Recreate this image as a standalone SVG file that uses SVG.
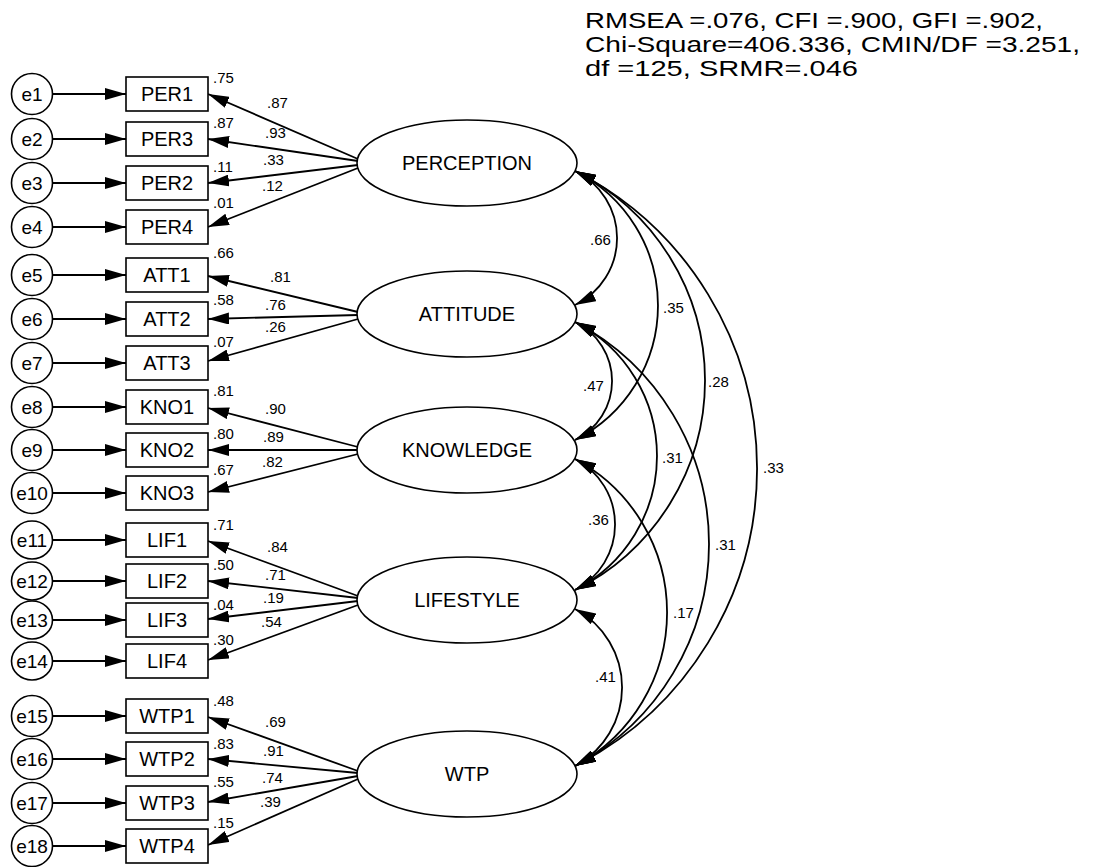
<svg xmlns="http://www.w3.org/2000/svg" width="1093" height="867" viewBox="0 0 1093 867">
  <style>
    text { font-family: "Liberation Sans", Arial, sans-serif; fill: #000; }
    .err { fill: #fff; stroke: #000; stroke-width: 1.6; }
    .obs { fill: #fff; stroke: #000; stroke-width: 1.6; }
    .lat { fill: #fff; stroke: #000; stroke-width: 1.6; }
    .t-err { font-size: 19px; text-anchor: middle; }
    .t-obs { font-size: 20px; text-anchor: middle; }
    .t-lat { font-size: 20px; text-anchor: middle; }
    .num { font-size: 15px; }
    .fit { font-size: 22px; }
    .path { fill: none; stroke: #000; stroke-width: 1.8; marker-end: url(#head); }
    .cov { fill: none; stroke: #000; stroke-width: 1.8; marker-start: url(#head); marker-end: url(#head); }
  </style>
  <defs>
    <marker id="head" markerUnits="userSpaceOnUse" markerWidth="21" markerHeight="12" refX="21" refY="6" orient="auto-start-reverse">
      <path d="M0,0 L21,6 L0,12 z" fill="#000"/>
    </marker>
  </defs>
  <rect width="1093" height="867" fill="#fff"/>

  <!-- fit statistics -->
  <g id="fit">
    <text class="fit" x="585" y="28" textLength="458" lengthAdjust="spacingAndGlyphs">RMSEA =.076, CFI  =.900, GFI =.902,</text>
    <text class="fit" x="585" y="52" textLength="495" lengthAdjust="spacingAndGlyphs">Chi-Square=406.336, CMIN/DF =3.251,</text>
    <text class="fit" x="585" y="76" textLength="273" lengthAdjust="spacingAndGlyphs">df =125, SRMR=.046</text>
  </g>

  <!-- connectors -->
  <g id="connectors">
    <!-- error terms to indicators -->
    <path class="path" d="M53,94 H126"/>
    <path class="path" d="M53,139 H126"/>
    <path class="path" d="M53,183 H126"/>
    <path class="path" d="M53,227 H126"/>
    <path class="path" d="M53,275 H126"/>
    <path class="path" d="M53,319 H126"/>
    <path class="path" d="M53,363 H126"/>
    <path class="path" d="M53,407 H126"/>
    <path class="path" d="M53,450 H126"/>
    <path class="path" d="M53,493 H126"/>
    <path class="path" d="M53,540 H126"/>
    <path class="path" d="M53,581 H126"/>
    <path class="path" d="M53,620 H126"/>
    <path class="path" d="M53,661 H126"/>
    <path class="path" d="M53,716 H126"/>
    <path class="path" d="M53,759 H126"/>
    <path class="path" d="M53,803 H126"/>
    <path class="path" d="M53,846 H126"/>

    <!-- loadings -->
    <path class="path" d="M358,159 L208,94"/>
    <path class="path" d="M358,161 L208,139"/>
    <path class="path" d="M358,165 L208,183"/>
    <path class="path" d="M358,168 L208,227"/>

    <path class="path" d="M358,312 L208,276"/>
    <path class="path" d="M358,315 L208,319"/>
    <path class="path" d="M358,319 L208,361"/>

    <path class="path" d="M358,447 L208,408"/>
    <path class="path" d="M358,450 L208,450"/>
    <path class="path" d="M358,454 L208,492"/>

    <path class="path" d="M358,596 L208,541"/>
    <path class="path" d="M358,598 L208,581"/>
    <path class="path" d="M358,601 L208,619"/>
    <path class="path" d="M358,605 L208,660"/>

    <path class="path" d="M358,771 L208,717"/>
    <path class="path" d="M358,773 L208,759"/>
    <path class="path" d="M358,776 L208,802"/>
    <path class="path" d="M358,779 L208,845"/>

    <!-- covariances -->
    <path class="cov" d="M575,171 A74.4,74.4 0 0 1 575,305"/>
    <path class="cov" d="M575,171 A150.5,150.5 0 0 1 575,440"/>
    <path class="cov" d="M575,171 A233.8,233.8 0 0 1 575,590"/>
    <path class="cov" d="M575,171 A334.1,334.1 0 0 1 575,766"/>
    <path class="cov" d="M575,322 A65.5,65.5 0 0 1 575,440"/>
    <path class="cov" d="M575,322 A150.5,150.5 0 0 1 575,590"/>
    <path class="cov" d="M575,322 A250.9,250.9 0 0 1 575,766"/>
    <path class="cov" d="M575,459 A73.6,73.6 0 0 1 575,590"/>
    <path class="cov" d="M575,459 A174,174 0 0 1 575,766"/>
    <path class="cov" d="M575,609 A89,89 0 0 1 575,766"/>
  </g>

  <!-- loading and covariance values -->
  <g id="estimates" class="num">
    <text class="num" x="267" y="108">.87</text>
    <text class="num" x="265" y="138">.93</text>
    <text class="num" x="263" y="165">.33</text>
    <text class="num" x="262" y="191">.12</text>
    <text class="num" x="270" y="282">.81</text>
    <text class="num" x="265" y="310">.76</text>
    <text class="num" x="265" y="332">.26</text>
    <text class="num" x="265" y="414">.90</text>
    <text class="num" x="263" y="442">.89</text>
    <text class="num" x="262" y="467">.82</text>
    <text class="num" x="267" y="552">.84</text>
    <text class="num" x="265" y="580">.71</text>
    <text class="num" x="263" y="603">.19</text>
    <text class="num" x="261" y="627">.54</text>
    <text class="num" x="265" y="727">.69</text>
    <text class="num" x="263" y="756">.91</text>
    <text class="num" x="262" y="783">.74</text>
    <text class="num" x="260" y="807">.39</text>

    <text class="num" x="590" y="245">.66</text>
    <text class="num" x="663" y="313">.35</text>
    <text class="num" x="708" y="387">.28</text>
    <text class="num" x="763" y="473">.33</text>
    <text class="num" x="583" y="391">.47</text>
    <text class="num" x="662" y="463">.31</text>
    <text class="num" x="715" y="550">.31</text>
    <text class="num" x="588" y="525">.36</text>
    <text class="num" x="673" y="618">.17</text>
    <text class="num" x="595" y="682">.41</text>
  </g>

  <!-- error terms -->
  <g id="e1"><circle class="err" cx="32" cy="94" r="20.5"/><text class="t-err" x="32" y="100.5">e1</text></g>
  <g id="e2"><circle class="err" cx="32" cy="139" r="20.5"/><text class="t-err" x="32" y="145.5">e2</text></g>
  <g id="e3"><circle class="err" cx="32" cy="183" r="20.5"/><text class="t-err" x="32" y="189.5">e3</text></g>
  <g id="e4"><circle class="err" cx="32" cy="227" r="20.5"/><text class="t-err" x="32" y="233.5">e4</text></g>
  <g id="e5"><circle class="err" cx="32" cy="275" r="20.5"/><text class="t-err" x="32" y="281.5">e5</text></g>
  <g id="e6"><circle class="err" cx="32" cy="319" r="20.5"/><text class="t-err" x="32" y="325.5">e6</text></g>
  <g id="e7"><circle class="err" cx="32" cy="363" r="20.5"/><text class="t-err" x="32" y="369.5">e7</text></g>
  <g id="e8"><circle class="err" cx="32" cy="407" r="20.5"/><text class="t-err" x="32" y="413.5">e8</text></g>
  <g id="e9"><circle class="err" cx="32" cy="450" r="20.5"/><text class="t-err" x="32" y="456.5">e9</text></g>
  <g id="e10"><circle class="err" cx="32" cy="493" r="20.5"/><text class="t-err" x="32" y="499.5">e10</text></g>
  <g id="e11"><ellipse class="err" cx="32" cy="540" rx="20.5" ry="19"/><text class="t-err" x="32" y="546.5">e11</text></g>
  <g id="e12"><ellipse class="err" cx="32" cy="581" rx="20.5" ry="19"/><text class="t-err" x="32" y="587.5">e12</text></g>
  <g id="e13"><ellipse class="err" cx="32" cy="620" rx="20.5" ry="19"/><text class="t-err" x="32" y="626.5">e13</text></g>
  <g id="e14"><ellipse class="err" cx="32" cy="661" rx="20.5" ry="19"/><text class="t-err" x="32" y="667.5">e14</text></g>
  <g id="e15"><circle class="err" cx="32" cy="716" r="20.5"/><text class="t-err" x="32" y="722.5">e15</text></g>
  <g id="e16"><circle class="err" cx="32" cy="759" r="20.5"/><text class="t-err" x="32" y="765.5">e16</text></g>
  <g id="e17"><circle class="err" cx="32" cy="803" r="20.5"/><text class="t-err" x="32" y="809.5">e17</text></g>
  <g id="e18"><circle class="err" cx="32" cy="846" r="20.5"/><text class="t-err" x="32" y="852.5">e18</text></g>

  <!-- observed indicators, with squared multiple correlations -->
  <g id="PER1"><rect class="obs" x="126" y="77" width="82" height="34"/><text class="t-obs" x="167" y="101">PER1</text><text class="num" x="213" y="83">.75</text></g>
  <g id="PER3"><rect class="obs" x="126" y="122" width="82" height="34"/><text class="t-obs" x="167" y="146">PER3</text><text class="num" x="213" y="128">.87</text></g>
  <g id="PER2"><rect class="obs" x="126" y="166" width="82" height="34"/><text class="t-obs" x="167" y="190">PER2</text><text class="num" x="213" y="172">.11</text></g>
  <g id="PER4"><rect class="obs" x="126" y="210" width="82" height="34"/><text class="t-obs" x="167" y="234">PER4</text><text class="num" x="213" y="208">.01</text></g>
  <g id="ATT1"><rect class="obs" x="126" y="258" width="82" height="34"/><text class="t-obs" x="167" y="282">ATT1</text><text class="num" x="213" y="258">.66</text></g>
  <g id="ATT2"><rect class="obs" x="126" y="302" width="82" height="34"/><text class="t-obs" x="167" y="326">ATT2</text><text class="num" x="213" y="305">.58</text></g>
  <g id="ATT3"><rect class="obs" x="126" y="346" width="82" height="34"/><text class="t-obs" x="167" y="370">ATT3</text><text class="num" x="213" y="347">.07</text></g>
  <g id="KNO1"><rect class="obs" x="126" y="390" width="82" height="34"/><text class="t-obs" x="167" y="414">KNO1</text><text class="num" x="213" y="396">.81</text></g>
  <g id="KNO2"><rect class="obs" x="126" y="433" width="82" height="34"/><text class="t-obs" x="167" y="457">KNO2</text><text class="num" x="213" y="439">.80</text></g>
  <g id="KNO3"><rect class="obs" x="126" y="476" width="82" height="34"/><text class="t-obs" x="167" y="500">KNO3</text><text class="num" x="213" y="475">.67</text></g>
  <g id="LIF1"><rect class="obs" x="126" y="523" width="82" height="34"/><text class="t-obs" x="167" y="547">LIF1</text><text class="num" x="213" y="530">.71</text></g>
  <g id="LIF2"><rect class="obs" x="126" y="564" width="82" height="34"/><text class="t-obs" x="167" y="588">LIF2</text><text class="num" x="213" y="570">.50</text></g>
  <g id="LIF3"><rect class="obs" x="126" y="603" width="82" height="34"/><text class="t-obs" x="167" y="627">LIF3</text><text class="num" x="213" y="610">.04</text></g>
  <g id="LIF4"><rect class="obs" x="126" y="644" width="82" height="34"/><text class="t-obs" x="167" y="668">LIF4</text><text class="num" x="213" y="645">.30</text></g>
  <g id="WTP1"><rect class="obs" x="126" y="699" width="82" height="34"/><text class="t-obs" x="167" y="723">WTP1</text><text class="num" x="213" y="706">.48</text></g>
  <g id="WTP2"><rect class="obs" x="126" y="742" width="82" height="34"/><text class="t-obs" x="167" y="766">WTP2</text><text class="num" x="213" y="749">.83</text></g>
  <g id="WTP3"><rect class="obs" x="126" y="786" width="82" height="34"/><text class="t-obs" x="167" y="810">WTP3</text><text class="num" x="213" y="787">.55</text></g>
  <g id="WTP4"><rect class="obs" x="126" y="829" width="82" height="34"/><text class="t-obs" x="167" y="853">WTP4</text><text class="num" x="213" y="828">.15</text></g>

  <!-- latent constructs -->
  <g id="PERCEPTION"><ellipse class="lat" cx="467" cy="163" rx="110" ry="43"/><text class="t-lat" x="467" y="170">PERCEPTION</text></g>
  <g id="ATTITUDE"><ellipse class="lat" cx="467" cy="314" rx="110" ry="43"/><text class="t-lat" x="467" y="321">ATTITUDE</text></g>
  <g id="KNOWLEDGE"><ellipse class="lat" cx="467" cy="450" rx="110" ry="43"/><text class="t-lat" x="467" y="457">KNOWLEDGE</text></g>
  <g id="LIFESTYLE"><ellipse class="lat" cx="467" cy="600" rx="110" ry="43"/><text class="t-lat" x="467" y="607">LIFESTYLE</text></g>
  <g id="WTP"><ellipse class="lat" cx="467" cy="774" rx="110" ry="43"/><text class="t-lat" x="467" y="781">WTP</text></g>
</svg>
